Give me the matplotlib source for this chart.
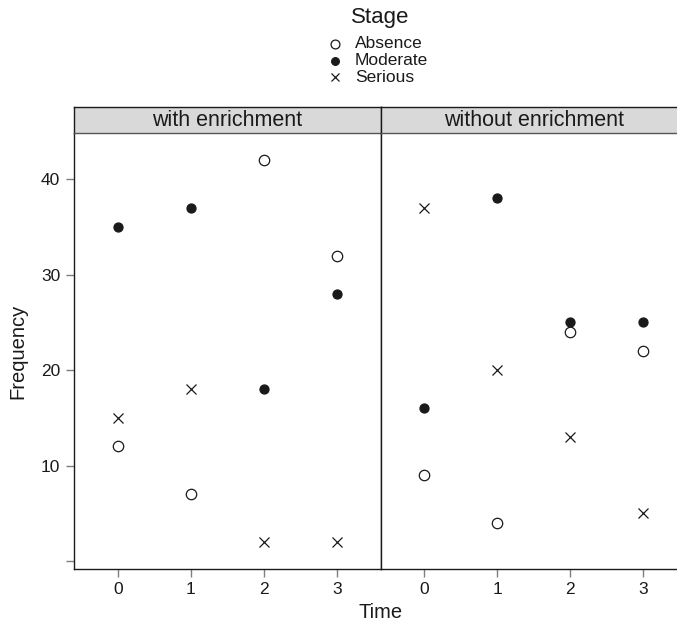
import numpy as np
import matplotlib
matplotlib.use("Agg")
import matplotlib.pyplot as plt

plt.rcParams["font.family"] = ["Liberation Sans", "DejaVu Sans"]

# data
times = [0, 1, 2, 3]
panels = ["with enrichment", "without enrichment"]
stages = ["Absence", "Moderate", "Serious"]

with_absence = [12, 7, 42, 32]
with_moderate = [35, 37, 18, 28]
with_serious = [15, 18, 2, 2]

without_absence = [9, 4, 24, 22]
without_moderate = [16, 38, 25, 25]
without_serious = [37, 20, 13, 5]

panel_data = {
    "with enrichment": [with_absence, with_moderate, with_serious],
    "without enrichment": [without_absence, without_moderate, without_serious],
}

W, H = 677, 629
fig = plt.figure(figsize=(W / 100, H / 100), dpi=100)


def px_box(x0, y0, x1, y1):
    # pixel box (top-left origin) -> figure fraction rect
    return [x0 / W, (H - y1) / H, (x1 - x0) / W, (y1 - y0) / H]


ink = "#1a1a1a"
marker_kw = [
    dict(marker="o", mfc="white", mec=ink, ms=7.5, mew=0.9),
    dict(marker="o", mfc=ink, mec=ink, ms=6.5, mew=0.9),
    dict(marker="x", color=ink, ms=7.5, mew=0.9),
]

edges = [(74, 380.5), (380.5, 687)]
tick_col = "#7f7f7f"
for i, name in enumerate(panels):
    x0, x1 = edges[i]
    ax = fig.add_axes(px_box(x0, 133, x1, 569))
    for vals, kw in zip(panel_data[name], marker_kw):
        ax.plot(times, vals, ls="none", **kw)
    ax.set_xlim(-0.6, 3.6)
    ax.set_ylim(-0.83, 44.83)
    ax.set_xticks(times)
    ax.tick_params(axis="x", direction="out", length=6, width=1, color=tick_col,
                   labelsize=12.5, pad=3, labelcolor=ink)
    if i == 0:
        ax.set_yticks([0, 10, 20, 30, 40])
        ax.set_yticklabels(["", "10", "20", "30", "40"])
        ax.tick_params(axis="y", direction="out", length=6, width=1, color=tick_col,
                       labelsize=12.5, pad=4, labelcolor=ink)
    else:
        ax.set_yticks([])
    for s in ax.spines.values():
        s.set_color(ink)
        s.set_linewidth(1)
    ax.spines["top"].set_visible(False)

    strip = fig.add_axes(px_box(x0, 107, x1, 133))
    strip.set_facecolor("#d9d9d9")
    strip.set_xticks([])
    strip.set_yticks([])
    for s in strip.spines.values():
        s.set_color(ink)
        s.set_linewidth(1)
    strip.spines["bottom"].set_color("#555555")
    strip.text(0.5, 0.47, name, ha="center", va="center", fontsize=15.5,
               color=ink, transform=strip.transAxes)

cx = 380.5 / W
fig.text(cx, 1 - 612 / H, "Time", ha="center", va="center", fontsize=14.5, color=ink)
fig.text(18 / W, 1 - 351 / H, "Frequency", ha="center", va="center", rotation=90,
         fontsize=14.5, color=ink)

# key on top
fig.text(cx, 1 - 18 / H, "Stage", ha="center", va="center", fontsize=16, color=ink)
key_y = [44, 60.5, 77]
for lab, kw, yy in zip(stages, marker_kw, key_y):
    fig.lines.append(plt.Line2D([335 / W], [1 - yy / H], transform=fig.transFigure,
                                ls="none", **{**kw, "ms": kw["ms"] * 0.85}))
    fig.text(355 / W, 1 - yy / H, lab, ha="left", va="center", fontsize=12.5, color=ink)

fig.savefig("out.png", dpi=100)
